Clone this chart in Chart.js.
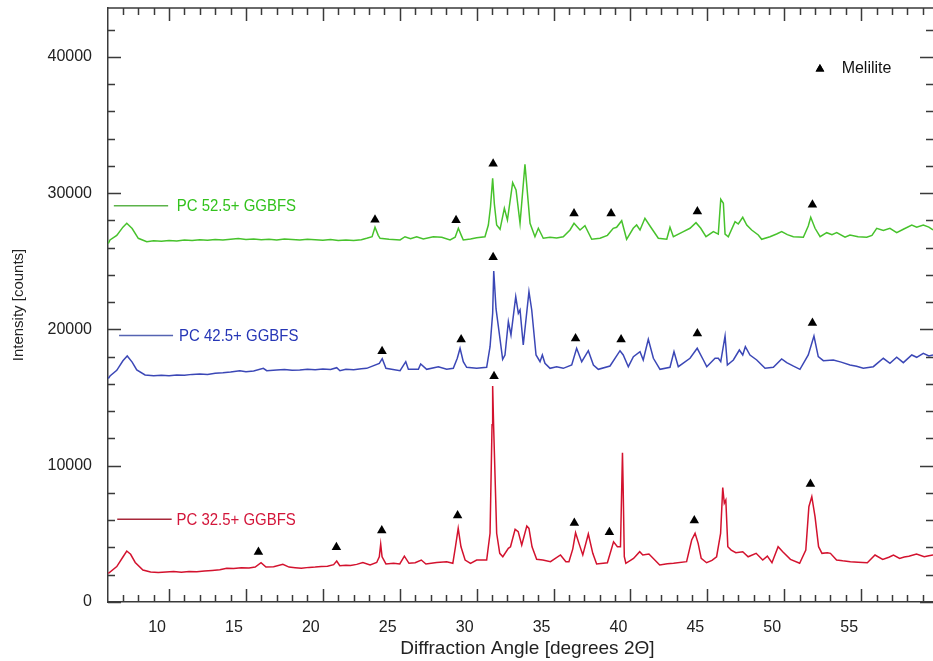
<!DOCTYPE html>
<html>
<head>
<meta charset="utf-8">
<script src="https://cdn.jsdelivr.net/npm/chart.js@4.4.1/dist/chart.umd.min.js"></script>
<style>
  html, body { margin: 0; padding: 0; background: #fff; }
  #wrap { width: 933px; height: 661px; position: relative; }
</style>
</head>
<body>
<div id="wrap"><canvas id="xrd"></canvas></div>
<script>
// diffraction angle (degrees 2θ) and intensity (counts)
const greenX = [6.05, 6.16, 6.6, 7.0, 7.25, 7.6, 8.0, 8.55, 9.0, 9.5, 10.0, 10.5, 11.0, 11.5, 12.0, 12.5, 13.0, 13.5, 14.0, 14.5, 15.0, 15.5, 16.0, 16.5, 17.0, 17.5, 18.0, 18.5, 19.0, 19.5, 20.0, 20.5, 21.0, 21.5, 22.0, 22.5, 22.85, 23.2, 23.39, 23.6, 23.72, 24.3, 25.02, 25.34, 25.7, 26.1, 26.53, 27.18, 27.73, 28.27, 28.6, 28.81, 29.0, 29.13, 29.6, 30.0, 30.54, 30.76, 30.9, 31.04, 31.15, 31.3, 31.52, 31.8, 32.0, 32.34, 32.56, 32.82, 33.14, 33.47, 33.79, 34.01, 34.33, 34.77, 35.2, 35.63, 36.07, 36.33, 36.72, 37.04, 37.48, 38.02, 38.5, 38.88, 39.1, 39.43, 39.75, 40.18, 40.4, 40.62, 40.94, 41.27, 41.81, 42.36, 42.57, 42.79, 43.44, 43.87, 44.26, 44.57, 44.91, 45.39, 45.71, 45.87, 46.04, 46.15, 46.36, 46.8, 47.01, 47.3, 47.56, 47.88, 48.31, 48.53, 49.07, 49.5, 49.83, 50.2, 50.59, 51.24, 51.56, 51.72, 52.0, 52.33, 52.76, 53.1, 53.41, 53.95, 54.27, 54.8, 55.36, 55.7, 56.01, 56.44, 56.87, 57.31, 57.74, 58.29, 58.61, 59.04, 59.4, 59.67];
const greenY = [26300, 26560, 26900, 27500, 27785, 27400, 26685, 26440, 26500, 26470, 26520, 26480, 26560, 26520, 26580, 26540, 26600, 26560, 26620, 26660, 26600, 26640, 26580, 26620, 26560, 26640, 26600, 26560, 26620, 26580, 26540, 26600, 26520, 26560, 26520, 26580, 26685, 26800, 27492, 26900, 26685, 26620, 26560, 26800, 26650, 26800, 26633, 26800, 26760, 26560, 26760, 27418, 26900, 26560, 26640, 26729, 26800, 27660, 29000, 31087, 29200, 27660, 27345, 28885, 28027, 30764, 30228, 27785, 32114, 27785, 26800, 27418, 26685, 26760, 26700, 26800, 27293, 27785, 27293, 27610, 26611, 26685, 26900, 27418, 27492, 27976, 26611, 27418, 27660, 27293, 28152, 27587, 26685, 26611, 27492, 26800, 27170, 27418, 27830, 27418, 26800, 27170, 26990, 29546, 29253, 26990, 26800, 27903, 27733, 28225, 27660, 27293, 26927, 26611, 26800, 27000, 27170, 26950, 26800, 26760, 27590, 28225, 27418, 26800, 27096, 26950, 27096, 26760, 26927, 26800, 26760, 26900, 27418, 27250, 27418, 27096, 27345, 27660, 27492, 27660, 27500, 27293];

const blueX = [6.05, 6.16, 6.6, 7.0, 7.28, 7.6, 7.9, 8.44, 9.0, 9.5, 10.0, 10.5, 11.0, 11.5, 12.0, 12.5, 13.0, 13.5, 14.0, 14.6, 15.0, 15.5, 16.13, 16.35, 17.0, 17.5, 18.0, 18.5, 19.0, 19.5, 20.0, 20.5, 20.9, 21.11, 21.5, 22.0, 22.5, 22.85, 23.67, 23.86, 24.1, 25.02, 25.39, 25.56, 26.21, 26.36, 26.75, 27.51, 28.05, 28.48, 28.74, 28.92, 29.13, 29.35, 30.0, 30.65, 30.87, 31.04, 31.11, 31.26, 31.47, 31.69, 31.84, 32.06, 32.23, 32.54, 32.71, 32.82, 33.03, 33.4, 33.58, 33.86, 34.12, 34.27, 34.44, 34.77, 35.2, 35.63, 36.18, 36.5, 36.83, 37.26, 37.59, 37.91, 38.67, 39.32, 39.53, 39.86, 40.19, 40.62, 40.83, 41.16, 41.49, 41.92, 42.57, 42.83, 43.11, 43.87, 44.34, 44.74, 44.96, 45.5, 45.71, 45.87, 46.15, 46.3, 46.69, 47.08, 47.3, 47.47, 47.77, 48.21, 48.75, 49.29, 49.83, 50.16, 50.6, 51.02, 51.56, 51.93, 52.21, 52.54, 53.19, 53.7, 54.27, 54.7, 55.14, 55.79, 56.44, 56.87, 57.31, 57.74, 58.29, 58.61, 59.04, 59.4, 59.67];
const blueY = [16400, 16580, 17000, 17700, 18049, 17600, 17022, 16655, 16600, 16640, 16606, 16660, 16640, 16700, 16728, 16700, 16780, 16820, 16880, 16970, 16900, 16950, 17144, 16970, 17020, 17060, 17000, 17022, 17080, 17040, 17100, 17060, 17193, 16970, 17080, 17040, 17120, 17144, 17511, 17852, 17144, 16970, 17632, 17070, 17070, 17462, 17070, 17265, 17070, 17144, 17880, 18614, 17632, 17220, 17144, 17220, 18731, 21182, 24285, 21500, 19714, 17807, 18122, 20566, 19590, 22400, 21182, 21424, 18856, 22767, 21424, 18122, 17632, 18122, 17510, 17144, 17250, 17144, 17388, 18614, 17632, 18438, 17388, 17070, 17315, 18438, 18122, 17265, 17998, 18365, 17755, 19274, 17880, 17070, 17220, 18365, 17265, 17880, 18614, 17755, 17265, 17880, 17880, 17632, 19516, 17388, 17755, 18489, 18122, 18731, 18122, 17755, 17144, 17220, 17829, 17560, 17300, 17070, 18122, 19516, 18000, 17706, 17755, 17600, 17388, 17300, 17144, 17265, 17880, 17511, 17954, 17560, 18122, 17954, 18245, 18050, 18122];

const redX = [6.05, 6.6, 7.0, 7.25, 7.5, 7.8, 8.3, 8.8, 9.3, 9.8, 10.3, 10.8, 11.3, 11.8, 12.3, 12.8, 13.3, 13.75, 14.2, 14.7, 15.2, 15.6, 15.98, 16.3, 16.8, 17.4, 17.8, 18.2, 18.6, 19.1, 19.5, 19.9, 20.3, 20.7, 20.9, 21.1, 21.5, 21.8, 22.2, 22.6, 23.07, 23.5, 23.67, 23.76, 23.85, 24.1, 24.6, 25.0, 25.3, 25.6, 26.0, 26.4, 26.7, 27.4, 28.05, 28.45, 28.62, 28.8, 28.98, 29.25, 29.6, 30.0, 30.65, 30.87, 31.0, 31.04, 31.1, 31.3, 31.5, 31.7, 32.06, 32.2, 32.5, 32.7, 32.93, 33.26, 33.4, 33.6, 33.9, 34.3, 34.8, 35.45, 35.8, 36.0, 36.25, 36.43, 36.65, 36.9, 37.26, 37.55, 37.8, 38.5, 38.9, 39.15, 39.35, 39.48, 39.52, 39.6, 39.7, 40.2, 40.6, 40.8, 41.2, 41.9, 42.4, 42.8, 43.65, 43.98, 44.2, 44.4, 44.6, 44.95, 45.3, 45.6, 45.86, 46.0, 46.1, 46.2, 46.33, 46.55, 46.85, 47.3, 47.65, 48.17, 48.6, 48.9, 49.2, 49.6, 49.9, 50.4, 51.0, 51.4, 51.6, 51.79, 52.0, 52.23, 52.45, 52.8, 53.0, 53.4, 53.8, 54.3, 54.8, 55.4, 55.9, 56.4, 56.8, 57.1, 57.5, 57.8, 58.1, 58.6, 59.1, 59.4, 59.67];
const redY = [2100, 2600, 3300, 3740, 3500, 2900, 2350, 2200, 2160, 2200, 2230, 2190, 2240, 2220, 2280, 2320, 2360, 2480, 2450, 2520, 2500, 2560, 2880, 2560, 2580, 2760, 2560, 2520, 2470, 2540, 2560, 2600, 2620, 2740, 3000, 2660, 2700, 2680, 2760, 2900, 2720, 2900, 3320, 4250, 3320, 2790, 2840, 2790, 3370, 2840, 2880, 3080, 2790, 2900, 2960, 2840, 4050, 5400, 4050, 3080, 2840, 3080, 3080, 5040, 13000, 15850, 13000, 5040, 3570, 3320, 3940, 4050, 5330, 5160, 4180, 5580, 5400, 4050, 3130, 3080, 2960, 3450, 2960, 2960, 3900, 5080, 4300, 3450, 4990, 3570, 2790, 2880, 4420, 4060, 4060, 10950, 8700, 3320, 2840, 3200, 3690, 3450, 3520, 2720, 2800, 2840, 2960, 4550, 5040, 4300, 3200, 2880, 3050, 3320, 5040, 8400, 7240, 7480, 4060, 3810, 3620, 3690, 3320, 3570, 3080, 3370, 2880, 4060, 3690, 3130, 2840, 3810, 6990, 7730, 6260, 4060, 3570, 3620, 3570, 3080, 3020, 2960, 2920, 2880, 3450, 3130, 3280, 3450, 3200, 3300, 3350, 3520, 3320, 3400, 3450];

// melilite markers
const greenMarkX = [23.39, 28.66, 31.07, 36.33, 38.74, 44.35, 51.83];
const greenMarkY = [28050, 28000, 32150, 28500, 28500, 28650, 29150];
const blueMarkX = [23.85, 28.99, 31.07, 36.43, 39.39, 44.35, 51.83];
const blueMarkY = [18400, 19250, 25290, 19325, 19250, 19700, 20470];
const redMarkX = [15.81, 20.88, 23.83, 28.76, 31.13, 36.35, 38.63, 44.15, 51.7];
const redMarkY = [3668, 4013, 5238, 6339, 16559, 5796, 5114, 5972, 8657];

const xTickValues = [10, 15, 20, 25, 30, 35, 40, 45, 50, 55];
const yTickValues = [0, 10000, 20000, 30000, 40000];

const seriesNames = ["PC 52.5+ GGBFS", "PC 42.5+ GGBFS", "PC 32.5+ GGBFS"];
// in-plot labels: line start, line end, text start (deg), level (counts)
const labelLineFrom = [6.41, 6.75, 6.63];
const labelLineTo = [9.94, 10.26, 10.17];
const labelTextAt = [10.5, 10.65, 10.48];
const labelLevel = [29080, 19560, 6070];

const markerName = "Melilite";
const markerKeyAt = [52.32, 39100];
const markerTextAt = 53.73;

const xTitle = "Diffraction Angle [degrees 2Θ]";
const xTitleAt = 33.3;

const xMin = 6.03, xMax = 59.67, yMax = 43580;
const xMinorStep = 1, xMajorStep = 5, yMinorStep = 2000, yMajorStep = 10000;

const green = "#47c22c", blue = "#3b47b6", red = "#d3122e";
const labelColors = ["#33c21d", "#2636b6", "#d3163a"];
const keyLineColors = ["#5cb34a", "#5563b2", "#a8283a"];
const FONT = '"Liberation Sans", Arial, sans-serif';

const toPoints = (xs, ys) => xs.map((x, i) => ({ x, y: ys[i] }));

// text with an optional horizontal squeeze (the original lettering is condensed)
function squeezedText(ctx, text, px, py, size, sx, color, align) {
  ctx.save();
  ctx.translate(px, py);
  ctx.scale(sx, 1);
  ctx.font = size + "px " + FONT;
  ctx.fillStyle = color;
  ctx.textAlign = align;
  ctx.textBaseline = "middle";
  ctx.fillText(text, 0, 0);
  ctx.restore();
}

const frame = {
  id: "frame",
  afterDatasetsDraw(chart) {
    const { ctx, chartArea: a, scales: { x, y } } = chart;
    ctx.save();
    ctx.strokeStyle = "#3a3a3a";
    ctx.lineWidth = 1.5;
    ctx.beginPath();
    ctx.moveTo(a.left, a.top);
    ctx.lineTo(a.right, a.top);
    for (let v = Math.ceil(x.min); v <= x.max; v += xMinorStep) {
      const px = Math.round(x.getPixelForValue(v)) + 0.5;
      const len = v % xMajorStep === 0 ? 13 : 7;
      ctx.moveTo(px, a.bottom); ctx.lineTo(px, a.bottom - len);
      ctx.moveTo(px, a.top); ctx.lineTo(px, a.top + len);
    }
    for (let v = 0; v <= y.max; v += yMinorStep) {
      const py = Math.round(y.getPixelForValue(v)) + 0.5;
      const len = v % yMajorStep === 0 ? 13 : 7;
      ctx.moveTo(a.left, py); ctx.lineTo(a.left + len, py);
      ctx.moveTo(a.right, py); ctx.lineTo(a.right - len, py);
    }
    ctx.stroke();

    // in-plot series labels
    seriesNames.forEach((name, i) => {
      const ly = y.getPixelForValue(labelLevel[i]);
      ctx.strokeStyle = keyLineColors[i];
      ctx.lineWidth = 1.5;
      ctx.beginPath();
      ctx.moveTo(x.getPixelForValue(labelLineFrom[i]), ly);
      ctx.lineTo(x.getPixelForValue(labelLineTo[i]), ly);
      ctx.stroke();
      squeezedText(ctx, name, x.getPixelForValue(labelTextAt[i]), ly + 1, 17, 0.88, labelColors[i], "left");
    });

    // marker key
    const kx = x.getPixelForValue(markerKeyAt[0]);
    const ky = y.getPixelForValue(markerKeyAt[1]);
    ctx.fillStyle = "#000";
    Chart.helpers.drawPoint(ctx, { pointStyle: "triangle", radius: 5, borderWidth: 0 }, kx, ky);
    ctx.fill();
    squeezedText(ctx, markerName, x.getPixelForValue(markerTextAt), ky, 16, 1, "#111", "left");

    // x axis title
    squeezedText(ctx, xTitle, x.getPixelForValue(xTitleAt), a.bottom + 47, 19, 1, "#222", "center");
    ctx.restore();
  }
};

const markerSet = (xs, ys) => ({
  type: "scatter",
  data: toPoints(xs, ys),
  pointStyle: "triangle",
  pointRadius: 5.5,
  pointBackgroundColor: "#000",
  pointBorderWidth: 0,
  showLine: false
});

const lineSet = (xs, ys, color) => ({
  type: "line",
  data: toPoints(xs, ys),
  borderColor: color,
  borderWidth: 1.5,
  pointRadius: 0,
  tension: 0
});

new Chart(document.getElementById("xrd"), {
  data: {
    datasets: [
      lineSet(redX, redY, red),
      lineSet(blueX, blueY, blue),
      lineSet(greenX, greenY, green),
      markerSet(redMarkX, redMarkY),
      markerSet(blueMarkX, blueMarkY),
      markerSet(greenMarkX, greenMarkY)
    ]
  },
  options: {
    responsive: true,
    maintainAspectRatio: false,
    animation: false,
    devicePixelRatio: 1,
    layout: { autoPadding: false, padding: { top: 8, left: 0, right: 0, bottom: 0 } },
    plugins: { legend: { display: false }, tooltip: { enabled: false } },
    scales: {
      x: {
        type: "linear",
        min: xMin,
        max: xMax,
        afterBuildTicks: s => { s.ticks = xTickValues.map(value => ({ value })); },
        afterFit: s => { s.height = 59; s.paddingLeft = 0; s.paddingRight = 0; },
        grid: { display: false, drawTicks: false },
        border: { display: true, color: "#3a3a3a", width: 1.5 },
        ticks: {
          labelOffset: -12,
          padding: 16,
          color: "#222",
          font: { family: FONT, size: 16 },
          maxRotation: 0,
          autoSkip: false,
          callback: v => String(v)
        }
      },
      y: {
        type: "linear",
        min: 0,
        max: yMax,
        afterBuildTicks: s => { s.ticks = yTickValues.map(value => ({ value })); },
        afterFit: s => { s.width = 108; s.paddingTop = 0; s.paddingBottom = 0; },
        grid: { display: false, drawTicks: false },
        border: { display: true, color: "#3a3a3a", width: 1.5 },
        ticks: {
          padding: 16,
          color: "#222",
          font: { family: FONT, size: 16 },
          autoSkip: false,
          callback: v => String(v)
        },
        title: {
          display: true,
          text: "Intensity [counts]",
          color: "#222",
          font: { family: FONT, size: 15, lineHeight: 1.2 },
          padding: { top: 10, bottom: 0 }
        }
      }
    }
  },
  plugins: [frame]
});
</script>
</body>
</html>
